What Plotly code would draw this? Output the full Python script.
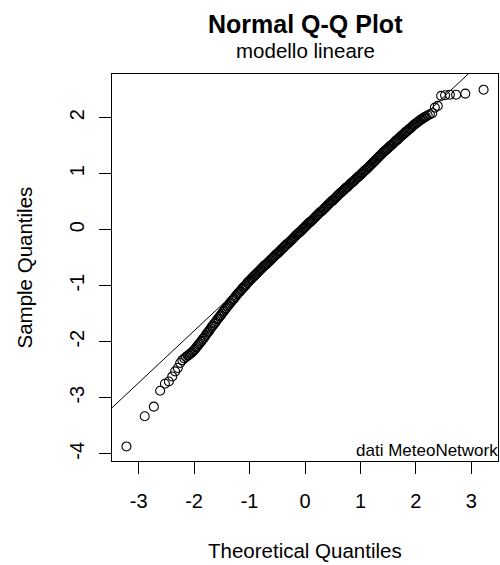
import plotly.graph_objects as go

# ---- data ----
# lower tail (theoretical quantile, sample quantile)
theo_low = [-3.22, -2.89, -2.725, -2.612, -2.526, -2.455, -2.394, -2.341,
            -2.294, -2.251, -2.212, -2.177, -2.145, -2.115]
samp_low = [-3.87, -3.33, -3.16, -2.875, -2.75, -2.71, -2.62, -2.53,
            -2.47, -2.38, -2.33, -2.30, -2.27, -2.25]

# dense central band
theo_mid = [
    -2.10, -2.08, -2.06, -2.04, -2.02, -2.00,
    -1.98, -1.96, -1.94, -1.92, -1.90,
    -1.88, -1.86, -1.84, -1.82, -1.80,
    -1.78, -1.76, -1.74, -1.72, -1.70,
    -1.68, -1.66, -1.64, -1.62, -1.60,
    -1.58, -1.56, -1.54, -1.52, -1.50,
    -1.48, -1.46, -1.44, -1.42, -1.40,
    -1.38, -1.36, -1.34, -1.32, -1.30,
    -1.28, -1.26, -1.24, -1.22, -1.20,
    -1.18, -1.16, -1.14, -1.12, -1.10,
    -1.08, -1.06, -1.04, -1.02, -1.00,
    -0.98, -0.96, -0.94, -0.92, -0.90, -0.88, -0.86, -0.84, -0.82, -0.80,
    -0.78, -0.76, -0.74, -0.72, -0.70, -0.68, -0.66, -0.64, -0.62, -0.60,
    -0.58, -0.56, -0.54, -0.52, -0.50, -0.48, -0.46, -0.44, -0.42, -0.40,
    -0.38, -0.36, -0.34, -0.32, -0.30, -0.28, -0.26, -0.24, -0.22, -0.20,
    -0.18, -0.16, -0.14, -0.12, -0.10, -0.08, -0.06, -0.04, -0.02, 0.00,
    0.02, 0.04, 0.06, 0.08, 0.10, 0.12, 0.14, 0.16, 0.18, 0.20,
    0.22, 0.24, 0.26, 0.28, 0.30, 0.32, 0.34, 0.36, 0.38, 0.40,
    0.42, 0.44, 0.46, 0.48, 0.50, 0.52, 0.54, 0.56, 0.58, 0.60,
    0.62, 0.64, 0.66, 0.68, 0.70, 0.72, 0.74, 0.76, 0.78, 0.80,
    0.82, 0.84, 0.86, 0.88, 0.90, 0.92, 0.94, 0.96, 0.98, 1.00,
    1.02, 1.04, 1.06, 1.08, 1.10, 1.12, 1.14, 1.16, 1.18, 1.20,
    1.22, 1.24, 1.26, 1.28, 1.30, 1.32, 1.34, 1.36, 1.38, 1.40,
    1.42, 1.44, 1.46, 1.48, 1.50, 1.52, 1.54, 1.56, 1.58, 1.60,
    1.62, 1.64, 1.66, 1.68, 1.70, 1.72, 1.74, 1.76, 1.78, 1.80,
    1.82, 1.84, 1.86, 1.88, 1.90, 1.92, 1.94, 1.96, 1.98, 2.00,
    2.02, 2.04, 2.06, 2.08, 2.10, 2.12, 2.14, 2.16,
]
samp_mid = [
    -2.24, -2.22, -2.21, -2.19, -2.17, -2.15,
    -2.13, -2.10, -2.08, -2.05, -2.03,
    -2.00, -1.98, -1.95, -1.93, -1.90,
    -1.87, -1.84, -1.82, -1.79, -1.76,
    -1.73, -1.71, -1.68, -1.66, -1.63,
    -1.60, -1.58, -1.55, -1.53, -1.50,
    -1.47, -1.45, -1.42, -1.40, -1.37,
    -1.35, -1.32, -1.30, -1.27, -1.25,
    -1.23, -1.20, -1.18, -1.15, -1.13,
    -1.11, -1.09, -1.06, -1.04, -1.02,
    -1.00, -0.98, -0.95, -0.93, -0.91,
    -0.89, -0.87, -0.85, -0.83, -0.81, -0.79, -0.77, -0.75, -0.73, -0.71,
    -0.69, -0.67, -0.65, -0.63, -0.62, -0.60, -0.58, -0.56, -0.54, -0.52,
    -0.50, -0.48, -0.46, -0.44, -0.43, -0.41, -0.39, -0.37, -0.35, -0.33,
    -0.31, -0.29, -0.27, -0.25, -0.24, -0.22, -0.20, -0.18, -0.16, -0.14,
    -0.12, -0.10, -0.08, -0.06, -0.05, -0.03, -0.01, 0.01, 0.03, 0.05,
    0.07, 0.09, 0.11, 0.13, 0.14, 0.16, 0.18, 0.20, 0.22, 0.24,
    0.26, 0.28, 0.30, 0.32, 0.33, 0.35, 0.37, 0.39, 0.41, 0.43,
    0.45, 0.47, 0.49, 0.51, 0.52, 0.54, 0.56, 0.58, 0.60, 0.62,
    0.64, 0.66, 0.67, 0.69, 0.71, 0.73, 0.75, 0.76, 0.78, 0.80,
    0.82, 0.84, 0.85, 0.87, 0.89, 0.91, 0.93, 0.94, 0.96, 0.98,
    1.00, 1.02, 1.04, 1.06, 1.07, 1.09, 1.11, 1.13, 1.15, 1.17,
    1.19, 1.21, 1.23, 1.25, 1.27, 1.29, 1.31, 1.33, 1.35, 1.37,
    1.39, 1.41, 1.42, 1.44, 1.46, 1.48, 1.50, 1.51, 1.53, 1.55,
    1.57, 1.59, 1.60, 1.62, 1.64, 1.66, 1.68, 1.69, 1.71, 1.73,
    1.75, 1.76, 1.78, 1.80, 1.81, 1.83, 1.85, 1.87, 1.88, 1.90,
    1.91, 1.93, 1.94, 1.96, 1.97, 1.98, 2.00, 2.01,
]

# upper tail
theo_high = [2.177, 2.212, 2.251, 2.294, 2.341, 2.394, 2.455, 2.526,
             2.612, 2.725, 2.89, 3.22]
samp_high = [2.02, 2.04, 2.06, 2.08, 2.18, 2.21, 2.39, 2.40,
             2.41, 2.41, 2.43, 2.50]

# reference line (qqline): intercept and slope
qq_intercept = 0.05
qq_slope = 0.928

x_ticks = [-3, -2, -1, 0, 1, 2, 3]
x_tick_labels = ["-3", "-2", "-1", "0", "1", "2", "3"]
y_ticks = [-4, -3, -2, -1, 0, 1, 2]
y_tick_labels = ["-4", "-3", "-2", "-1", "0", "1", "2"]
x_range = [-3.48, 3.48]
y_range = [-4.13, 2.78]

title_text = "Normal Q-Q Plot"
subtitle_text = "modello lineare"
x_title = "Theoretical Quantiles"
y_title = "Sample Quantiles"
credit_text = "dati MeteoNetwork"

assert len(theo_mid) == len(samp_mid)

theo = theo_low + theo_mid + theo_high
samp = samp_low + samp_mid + samp_high

FONT = "Liberation Sans, Arial, Helvetica, sans-serif"
INK = "#000000"

fig = go.Figure()
fig.add_trace(go.Scatter(
    x=theo, y=samp, mode="markers",
    marker=dict(symbol="circle-open", size=9, color=INK,
                line=dict(width=1.1, color=INK)),
    hoverinfo="skip", showlegend=False,
))
fig.add_trace(go.Scatter(
    x=x_range, y=[qq_intercept + qq_slope * v for v in x_range],
    mode="lines", line=dict(color=INK, width=1),
    hoverinfo="skip", showlegend=False,
))

axis_common = dict(
    showgrid=False, zeroline=False, showline=True, mirror=True,
    linecolor=INK, linewidth=1, ticks="outside", ticklen=12, tickwidth=1,
    tickcolor=INK, tickfont=dict(family=FONT, size=20, color=INK),
)
fig.update_xaxes(range=x_range, tickvals=x_ticks, ticktext=x_tick_labels,
                 ticklabelstandoff=10, **axis_common)
fig.update_yaxes(range=y_range, tickvals=y_ticks, ticktext=y_tick_labels,
                 tickangle=-90, ticklabelstandoff=7, **axis_common)

fig.update_layout(
    width=500, height=565,
    margin=dict(l=112, r=2, t=74, b=104, pad=0),
    paper_bgcolor="white", plot_bgcolor="white",
    font=dict(family=FONT, color=INK),
    annotations=[
        dict(text="<b>" + title_text + "</b>", xref="paper", yref="paper",
             x=0.5, y=1, yshift=50, xanchor="center", yanchor="middle",
             showarrow=False, font=dict(size=25, family=FONT, color=INK)),
        dict(text=subtitle_text, xref="paper", yref="paper",
             x=0.5, y=1, yshift=24, xanchor="center", yanchor="middle",
             showarrow=False, font=dict(size=20.5, family=FONT, color=INK)),
        dict(text=x_title, xref="paper", yref="paper",
             x=0.5, y=0, yshift=-89, xanchor="center", yanchor="middle",
             showarrow=False, font=dict(size=20.5, family=FONT, color=INK)),
        dict(text=y_title, xref="paper", yref="paper", textangle=-90,
             x=0, y=0.5, xshift=-88, xanchor="center", yanchor="middle",
             showarrow=False, font=dict(size=20.5, family=FONT, color=INK)),
        dict(text=credit_text, xref="paper", yref="paper",
             x=1, y=0, xshift=2, yshift=11, xanchor="right", yanchor="middle",
             showarrow=False, font=dict(size=17, family=FONT, color=INK)),
    ],
)

fig.write_html("out.html")
